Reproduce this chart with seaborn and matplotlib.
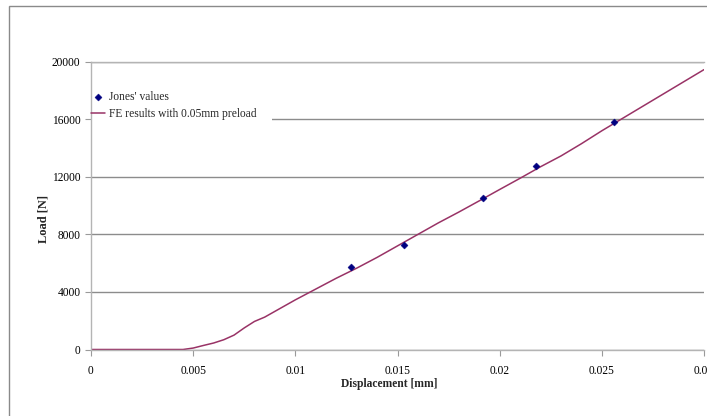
import matplotlib
matplotlib.use("Agg")
import matplotlib.pyplot as plt
import seaborn as sns
import pandas as pd
from matplotlib.patches import Rectangle

# ---- data ----
jones_disp = [0.0127, 0.0153, 0.0192, 0.0218, 0.0256]
jones_load = [5700, 7250, 10550, 12780, 15780]

fe_disp = [0, 0.001, 0.002, 0.003, 0.004, 0.0045, 0.005, 0.0055, 0.006, 0.0065,
           0.007, 0.0075, 0.008, 0.0085, 0.009, 0.0095, 0.010, 0.011, 0.012, 0.013,
           0.014, 0.015, 0.016, 0.017, 0.018, 0.019, 0.020, 0.021, 0.022, 0.023,
           0.024, 0.025, 0.026, 0.027, 0.028, 0.029, 0.030]
fe_load = [0, 0, 0, 0, 0, 0, 100, 280, 450, 680,
           1000, 1500, 1950, 2250, 2650, 3050, 3450, 4200, 4950, 5650,
           6400, 7200, 8000, 8800, 9550, 10330, 11120, 11900, 12700, 13450,
           14300, 15200, 16050, 16900, 17750, 18600, 19450]

x_ticks = [0, 0.005, 0.01, 0.015, 0.02, 0.025, 0.03]
x_tick_labels = ["0", "0.005", "0.01", "0.015", "0.02", "0.025", "0.03"]
y_ticks = [0, 4000, 8000, 12000, 16000, 20000]
y_tick_labels = ["0", "4000", "8000", "12000", "16000", "20000"]

sns.set_style("white")
plt.rcParams['font.family'] = ['Liberation Serif', 'DejaVu Serif']

FS = 8.3
fig = plt.figure(figsize=(7.07, 4.16), dpi=100)
W, H = 707, 416
# outer chart frame (extends beyond the crop on right/bottom)
fig.patches.append(Rectangle((9 / W, -0.2), 1.5, 1 - 6 / H + 0.2,
                             transform=fig.transFigure, fill=False,
                             edgecolor="#8a8a8a", linewidth=1.0))

left, right = 91 / W, 704 / W
bottom, top = 1 - 349.5 / H, 1 - 61.7 / H
ax = fig.add_axes([left, bottom, right - left, top - bottom])
axw, axh = 613.0, 287.8

fe_df = pd.DataFrame({"x": fe_disp, "y": fe_load})
jo_df = pd.DataFrame({"x": jones_disp, "y": jones_load})

ax.set_axisbelow(True)
ax.yaxis.grid(True, color="#8c8c8c", linewidth=1.0, zorder=0)
ax.xaxis.grid(False)

# white legend background hiding the gridline behind the legend (as in reference)
ax.add_patch(Rectangle((0, (349.5 - 130) / axh), (272 - 91) / axw, (130 - 80) / axh,
                       transform=ax.transAxes, facecolor="white",
                       edgecolor="none", zorder=1))

sns.scatterplot(data=jo_df, x="x", y="y", ax=ax, marker="D", s=13,
                color="#000080", edgecolor="#000080", linewidth=0.3,
                label="Jones' values", zorder=3)
sns.lineplot(data=fe_df, x="x", y="y", ax=ax, color="#993366", linewidth=1.1,
             label="FE results with 0.05mm preload", zorder=2)

ax.set_xlim(0, 0.03)
ax.set_ylim(0, 20000)
ax.set_xticks(x_ticks)
ax.set_xticklabels(x_tick_labels)
ax.set_yticks(y_ticks)
ax.set_yticklabels(y_tick_labels)

for s in ["left", "bottom", "top"]:
    ax.spines[s].set_color("#b4b4b4")
    ax.spines[s].set_linewidth(1.0)
ax.spines["right"].set_visible(False)

ax.tick_params(axis="both", which="major", direction="out", length=4,
               color="#9a9a9a", labelsize=FS, labelcolor="black")
ax.tick_params(axis="x", pad=7, bottom=True)
ax.tick_params(axis="y", pad=3.5, left=True)

ax.set_xlabel("Displacement [mm]", fontsize=FS, fontweight="bold")
ax.set_ylabel("Load [N]", fontsize=FS + 0.7, fontweight="bold")
ax.xaxis.set_label_coords((389 - 91) / axw, -(384 - 349.5) / axh, transform=ax.transAxes)
ax.xaxis.label.set_va("center")
ax.yaxis.set_label_coords(-(91 - 43) / axw, (349.5 - 219) / axh, transform=ax.transAxes)
ax.yaxis.label.set_va("center")

leg = ax.legend(loc="upper left", bbox_to_anchor=(0.0, (349.5 - 91.5) / axh),
                frameon=False, fontsize=FS, handlelength=1.2, handletextpad=0.4,
                borderpad=0.0, labelspacing=0.38, borderaxespad=0.0,
                markerscale=1.0)

fig.savefig("out.png", dpi=100, facecolor="white")
